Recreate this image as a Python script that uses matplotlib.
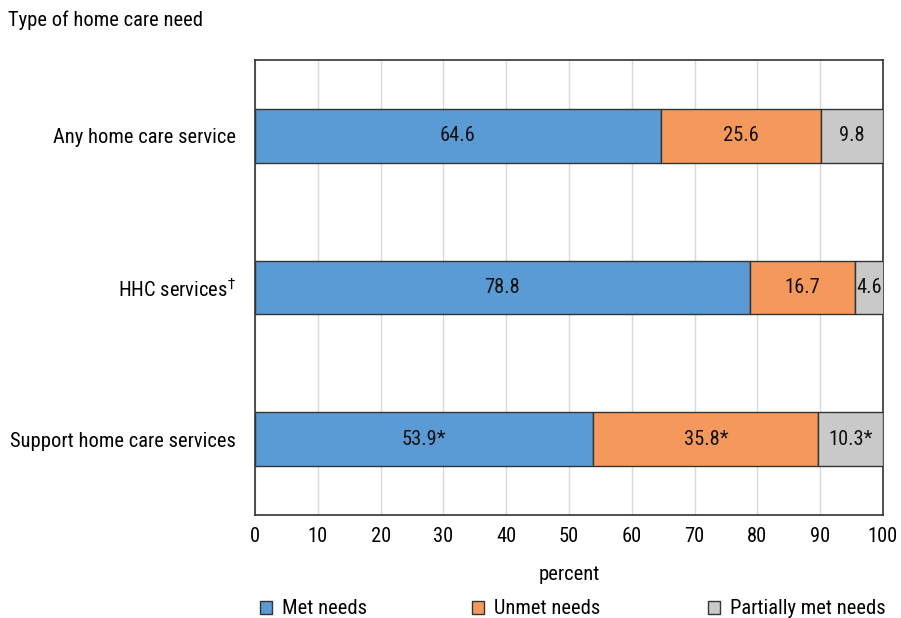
import numpy as np
import matplotlib
matplotlib.use("Agg")
import matplotlib.pyplot as plt
from matplotlib import font_manager
from matplotlib.patches import Patch

names = {f.name for f in font_manager.fontManager.ttflist}
for fam in ["Liberation Sans Narrow", "Roboto Condensed", "Liberation Sans", "DejaVu Sans"]:
    if fam in names:
        break
plt.rcParams["font.family"] = [fam, "DejaVu Sans"]

categories = ["Any home care service", "HHC services$^{\\dagger}$", "Support home care services"]
met = [64.6, 78.8, 53.9]
unmet = [25.6, 16.7, 35.8]
partial = [9.8, 4.6, 10.3]
met_lbl = ["64.6", "78.8", "53.9*"]
unmet_lbl = ["25.6", "16.7", "35.8*"]
partial_lbl = ["9.8", "4.6", "10.3*"]
series_names = ["Met needs", "Unmet needs", "Partially met needs"]
colors = ["#5B9BD5", "#F4995B", "#C9C9C9"]

FS = 14.8

fig = plt.figure(figsize=(9.01, 6.18), dpi=100)
ax = fig.add_axes([0.283, 0.1667, 0.697, 0.7363])

y = np.arange(len(categories))
left = np.zeros(len(categories))
for vals, lbls, col in zip([met, unmet, partial], [met_lbl, unmet_lbl, partial_lbl], colors):
    bars = ax.barh(y, vals, left=left, height=0.355, color=col, edgecolor="#333333",
                   linewidth=1.0, zorder=3)
    ax.bar_label(bars, labels=lbls, label_type="center", fontsize=FS, color="#111111")
    left += np.array(vals)

ax.set_xlim(0, 100)
ax.set_ylim(len(categories) - 0.5, -0.5)
ax.set_xticks(np.arange(0, 101, 10))
ax.set_yticks(y)
ax.set_yticklabels(categories, fontsize=FS)
ax.tick_params(axis="x", labelsize=FS, length=0, pad=9)
ax.tick_params(axis="y", length=0, pad=14)
ax.grid(axis="x", color="#D9D9D9", linewidth=1.0, zorder=0)
for s in ax.spines.values():
    s.set_color("#333333")
    s.set_linewidth(1.2)
ax.set_xlabel("percent", fontsize=FS, labelpad=13)

fig.text(8 / 901, 1 - 20 / 618, "Type of home care need", fontsize=FS, va="center", ha="left")

# legend entries placed individually
for name, col, xpix in zip(series_names, colors, [260, 472, 708]):
    fig.legend(handles=[Patch(facecolor=col, edgecolor="#333333")], labels=[name],
               loc="center left", bbox_to_anchor=(xpix / 901, 1 - 609 / 618), frameon=False,
               fontsize=FS, handlelength=0.6, handleheight=0.6, handletextpad=0.45,
               borderaxespad=0, borderpad=0)

fig.savefig("out.png", dpi=100)
